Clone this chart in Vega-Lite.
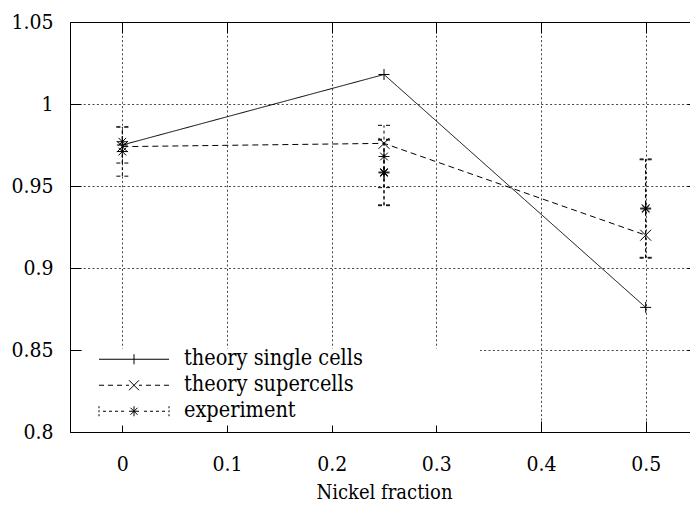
{
  "$schema": "https://vega.github.io/schema/vega-lite/v6.json",
  "width": 628,
  "height": 410,
  "autosize": {"type": "none"},
  "padding": {"left": 70, "top": 22, "right": 0, "bottom": 73},
  "background": "white",
  "config": {
    "view": {"stroke": null},
    "font": "DejaVu Serif Condensed",
    "axis": {
      "domainColor": "black", "domainWidth": 1,
      "tickColor": "black", "tickWidth": 1, "tickSize": -11,
      "labelFont": "DejaVu Serif Condensed", "labelFontSize": 21, "labelColor": "black",
      "labelFlush": false, "labelOverlap": false,
      "titleFont": "DejaVu Serif Condensed", "titleFontWeight": "normal", "titleColor": "black",
      "gridColor": "#444", "gridDash": [2, 2.4], "gridWidth": 1
    }
  },
  "datasets": {
    "pts": [
      {"series": "theory single cells", "x": 0, "y": 0.975},
      {"series": "theory single cells", "x": 0.25, "y": 1.018},
      {"series": "theory single cells", "x": 0.5, "y": 0.876},
      {"series": "theory supercells", "x": 0, "y": 0.974},
      {"series": "theory supercells", "x": 0.25, "y": 0.976},
      {"series": "theory supercells", "x": 0.5, "y": 0.92},
      {"series": "experiment", "x": 0, "y": 0.977, "lo": 0.964, "hi": 0.986},
      {"series": "experiment", "x": 0, "y": 0.971, "lo": 0.956, "hi": 0.986},
      {"series": "experiment", "x": 0.25, "y": 0.968, "lo": 0.949, "hi": 0.987},
      {"series": "experiment", "x": 0.25, "y": 0.958, "lo": 0.938, "hi": 0.978},
      {"series": "experiment", "x": 0.25, "y": 0.9585, "lo": 0.9385, "hi": 0.9785},
      {"series": "experiment", "x": 0.5, "y": 0.936, "lo": 0.906, "hi": 0.966},
      {"series": "experiment", "x": 0.5, "y": 0.9365, "lo": 0.9065, "hi": 0.9665}
    ]
  },
  "data": {"name": "pts"},
  "layer": [
    {
      "transform": [{"filter": "datum.series !== 'experiment'"}],
      "mark": {"type": "line", "color": "black", "strokeWidth": 1},
      "encoding": {
        "x": {"field": "x", "type": "quantitative",
          "scale": {"domain": [-0.05, 0.55], "nice": false, "zero": false},
          "axis": {"orient": "bottom", "values": [0, 0.1, 0.2, 0.3, 0.4, 0.5], "format": "~g",
            "title": "Nickel fraction", "titleFontSize": 20, "titlePadding": 8,
            "grid": true, "labelPadding": 32}},
        "y": {"field": "y", "type": "quantitative",
          "scale": {"domain": [0.8, 1.05], "nice": false, "zero": false},
          "axis": {"orient": "left", "values": [0.8, 0.85, 0.9, 0.95, 1, 1.05], "format": "~g",
            "title": null, "grid": true, "labelPadding": 28}},
        "strokeDash": {"field": "series", "type": "nominal",
          "scale": {"domain": ["theory single cells", "theory supercells"], "range": [[1, 0], [6, 4]]},
          "legend": null}
      }
    },
    {
      "transform": [{"filter": "datum.series === 'experiment'"}],
      "mark": {"type": "rule", "color": "black", "strokeWidth": 1, "strokeDash": [3, 3]},
      "encoding": {
        "x": {"field": "x", "type": "quantitative", "axis": null},
        "y": {"field": "lo", "type": "quantitative", "axis": null},
        "y2": {"field": "hi"}
      }
    },
    {
      "transform": [{"filter": "datum.series === 'experiment'"}],
      "mark": {"type": "rule", "color": "black", "strokeWidth": 1, "strokeDash": [4, 4], "xOffset": -6, "x2Offset": 6},
      "encoding": {
        "x": {"field": "x", "type": "quantitative", "axis": null},
        "x2": {"field": "x"},
        "y": {"field": "lo", "type": "quantitative", "axis": null}
      }
    },
    {
      "transform": [{"filter": "datum.series === 'experiment'"}],
      "mark": {"type": "rule", "color": "black", "strokeWidth": 1, "strokeDash": [4, 4], "xOffset": -6, "x2Offset": 6},
      "encoding": {
        "x": {"field": "x", "type": "quantitative", "axis": null},
        "x2": {"field": "x"},
        "y": {"field": "hi", "type": "quantitative", "axis": null}
      }
    },
    {
      "mark": {"type": "point", "filled": false, "color": "black", "strokeWidth": 1, "size": 120, "opacity": 1},
      "encoding": {
        "x": {"field": "x", "type": "quantitative", "axis": null},
        "y": {"field": "y", "type": "quantitative", "axis": null},
        "shape": {"field": "series", "type": "nominal",
          "scale": {"domain": ["theory single cells", "theory supercells", "experiment"],
            "range": ["M-1,0H1M0,-1V1", "M-1,-1L1,1M-1,1L1,-1", "M-1,0H1M0,-1V1M-0.7,-0.7L0.7,0.7M-0.7,0.7L0.7,-0.7"]},
          "legend": null}
      }
    },
    {
      "transform": [{"filter": "false"}],
      "mark": {"type": "point", "filled": false, "color": "black", "strokeWidth": 1},
      "encoding": {
        "x": {"field": "x", "type": "quantitative", "axis": null},
        "y": {"field": "y", "type": "quantitative", "axis": null},
        "shape": {"field": "series", "type": "nominal",
          "scale": {"domain": ["theory single cells", "theory supercells", "experiment"],
            "range": [
              "M-52,-13M344,0M-35,0H35M0,-5V5",
              "M-52,0M344,0M-35,0h5M-26,0h5M-17,0h5M-8,0h3M5,0h3M12,0h5M21,0h5M30,0h5M-5,-5L5,5M-5,5L5,-5",
              "M-52,12M344,0M-35,-5V-3M-35,-1V1M-35,3V5M35,-5V-3M35,-1V1M35,3V5M-31,0h3M-25,0h3M-19,0h3M-13,0h3M10,0h3M16,0h3M22,0h3M28,0h3M-5,0H5M0,-5V5M-3.5,-3.5L3.5,3.5M-3.5,3.5L3.5,-3.5"
            ]},
          "legend": {
            "orient": "none", "legendX": 12, "legendY": 326.5, "title": null, "padding": 0,
            "fillColor": "white", "strokeColor": null,
            "symbolSize": 4, "symbolStrokeWidth": 1, "symbolStrokeColor": "black",
            "symbolFillColor": "transparent", "symbolOpacity": 1, "symbolOffset": 41.25,
            "labelFont": "DejaVu Serif Condensed", "labelFontSize": 21.5, "labelColor": "black",
            "labelOffset": 39.25, "rowPadding": 3, "labelLimit": 500
          }}
      }
    },
    {
      "transform": [{"filter": "false"}],
      "mark": {"type": "point", "opacity": 0},
      "encoding": {
        "x": {"field": "x", "type": "quantitative",
          "axis": {"orient": "top", "values": [0, 0.1, 0.2, 0.3, 0.4, 0.5], "labels": false, "grid": false, "title": null}},
        "y": {"field": "y", "type": "quantitative",
          "axis": {"orient": "right", "values": [0.8, 0.85, 0.9, 0.95, 1, 1.05], "labels": false, "grid": false, "title": null}}
      }
    }
  ],
  "resolve": {"axis": {"x": "independent", "y": "independent"}, "scale": {"shape": "independent"}}
}
